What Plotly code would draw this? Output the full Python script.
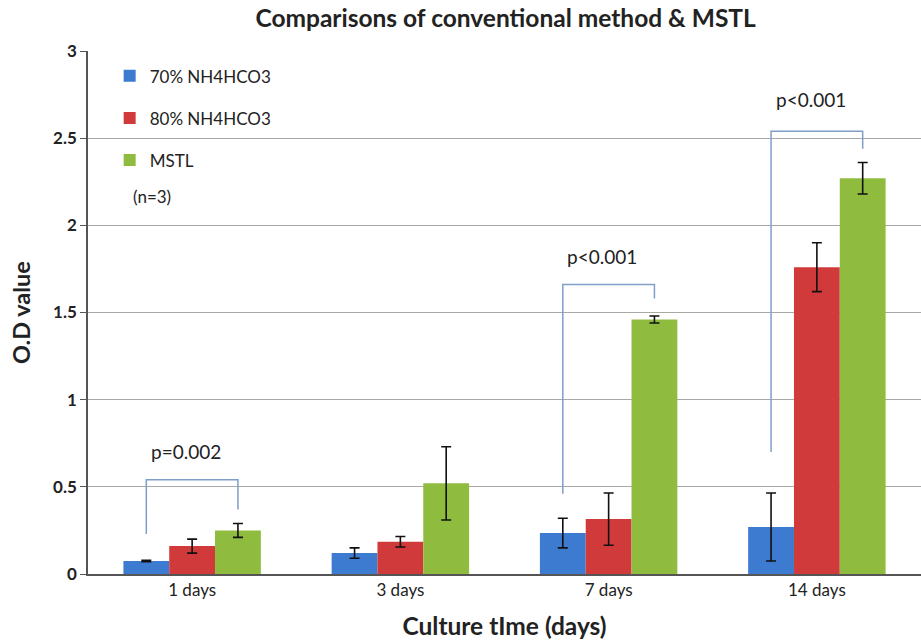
import plotly.graph_objects as go

categories = ["1 days", "3 days", "7 days", "14 days"]
series_names = ["70% NH4HCO3", "80% NH4HCO3", "MSTL"]
vals_70 = [0.075, 0.12, 0.235, 0.27]
err_70 = [0.004, 0.03, 0.085, 0.195]
vals_80 = [0.16, 0.185, 0.315, 1.76]
err_80 = [0.04, 0.03, 0.15, 0.14]
vals_mstl = [0.25, 0.52, 1.46, 2.27]
err_mstl = [0.04, 0.21, 0.02, 0.09]

# significance brackets: category index, left foot, top, right foot, label, label y
br_cat = [0, 2, 3]
br_left = [0.23, 0.46, 0.70]
br_top = [0.54, 1.66, 2.54]
br_right = [0.37, 1.58, 2.44]
br_text = ["p=0.002", "p<0.001", "p<0.001"]
br_text_y = [0.70, 1.82, 2.72]

colors = ["#3C7BCF", "#D13A3A", "#8FBC3F"]
FONT = "Lato, Open Sans, sans-serif"
TXT = "#222222"

fig = go.Figure()
for name, v, e, c in zip(series_names, [vals_70, vals_80, vals_mstl],
                         [err_70, err_80, err_mstl], colors):
    fig.add_trace(go.Bar(
        x=categories, y=v, name=name, legendgroup=name,
        marker=dict(color=c, line=dict(width=0)),
        error_y=dict(type="data", array=e, color="#111111", thickness=1.6, width=5),
    ))

bargap = 0.34
bw = (1 - bargap) / 3
# white box behind legend covering gridlines
fig.add_shape(type="rect", xref="paper", yref="paper", x0=0.002, x1=0.281,
              y0=0.70, y1=0.99, fillcolor="white", line=dict(width=0), layer="between")

for ci, l, t, r, txt, ty in zip(br_cat, br_left, br_top, br_right, br_text, br_text_y):
    xl = ci - bw
    xr = ci + bw
    fig.add_shape(type="path", xref="x", yref="y",
                  path=f"M {xl},{l} L {xl},{t} L {xr},{t} L {xr},{r}",
                  line=dict(color="#7F9FC8", width=1.5))
    fig.add_annotation(x=ci - 0.03, y=ty, xref="x", yref="y", text=txt, showarrow=False,
                       font=dict(size=19, color=TXT, family=FONT))

fig.add_annotation(xref="paper", yref="paper", x=0.052, y=0.722, xanchor="left",
                   yanchor="middle", text="(n=3)", showarrow=False,
                   font=dict(size=17, color=TXT, family=FONT))

fig.update_layout(
    width=921, height=642,
    margin=dict(l=88, r=0, t=51, b=68, autoexpand=False),
    paper_bgcolor="white", plot_bgcolor="white",
    barmode="group", bargap=bargap, bargroupgap=0,
    font=dict(family=FONT, color=TXT),
    title=dict(text="<b>Comparisons of conventional method & MSTL</b>",
               x=0.549, xanchor="center", xref="container", y=0.971, yanchor="middle",
               automargin=False,
               font=dict(size=24.5, family=FONT, color=TXT)),
    legend=dict(x=0.026, y=0.986, xanchor="left", yanchor="top",
                bgcolor="rgba(0,0,0,0)", traceorder="grouped", tracegroupgap=17,
                font=dict(size=17, family=FONT, color=TXT),
                itemwidth=30),
    showlegend=True,
)
fig.update_xaxes(
    range=[-0.5, 3.5], showline=True, linecolor="#555555", linewidth=1.5,
    ticks="", tickfont=dict(size=17, family=FONT, color=TXT),
    title=dict(text="<b>Culture tIme (days)</b>", font=dict(size=24.5, family=FONT, color=TXT),
               standoff=19),
    showgrid=False, automargin=False,
)
fig.update_yaxes(
    range=[0, 3], dtick=0.5, showline=True, linecolor="#555555", linewidth=1.5,
    ticks="outside", ticklen=6, tickcolor="#555555",
    tickfont=dict(size=17, family=FONT, color=TXT, weight="bold"),
    tickformat="~g",
    showgrid=True, gridcolor="#A8A8A8", gridwidth=1.2, zeroline=False,
    title=dict(text="<b>O.D value</b>", font=dict(size=23.5, family=FONT, color=TXT),
               standoff=16),
    automargin=False,
)

fig.write_html("out.html", config={"displayModeBar": False},
               post_script="document.body.style.margin='0';")
